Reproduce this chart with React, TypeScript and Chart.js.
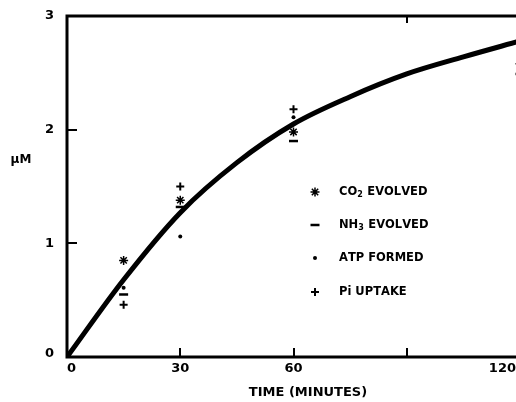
import React, { useEffect, useRef } from 'react';
import { Chart, registerables } from 'chart.js';

Chart.register(...registerables);

// ---- data ----
const timePoints = [15, 30, 60, 120];
const co2Evolved = [0.85, 1.38, 1.98, 2.58];
const nh3Evolved = [0.55, 1.32, 1.9, 2.49];
const atpFormed = [0.61, 1.06, 2.11, 2.4];
const piUptake = [0.46, 1.5, 2.18, 2.7];

const curveTimes = [0, 15, 30, 45, 60, 75, 90, 105, 120];
const curveValues = [0, 0.68, 1.27, 1.71, 2.05, 2.29, 2.49, 2.64, 2.78];

const xTickValues = [0, 30, 60, 90, 120];
const xTickLabels = ['0', '30', '60', '', '120'];
const yTickValues = [0, 1, 2, 3];
const yTickLabels = ['0', '1', '2', '3'];

const seriesLabels = ['CO₂ EVOLVED', 'NH₃ EVOLVED', 'ATP FORMED', 'Pi UPTAKE'];
const seriesSymbols = ['star', 'line', 'circle', 'cross'];
const xTitle = 'TIME (MINUTES)';
const yTitle = 'μM';

const FONT = '"DejaVu Sans", sans-serif';
const VIEW_W = 516;
const CANVAS_W = 527;

function drawSymbol(ctx: CanvasRenderingContext2D, kind: string, x: number, y: number) {
  ctx.save();
  ctx.strokeStyle = '#000';
  ctx.fillStyle = '#000';
  if (kind === 'star') {
    ctx.lineWidth = 1.5;
    const r = 4.5;
    ctx.beginPath();
    for (let i = 0; i < 4; i++) {
      const a = (i * Math.PI) / 4;
      ctx.moveTo(x - r * Math.cos(a), y - r * Math.sin(a));
      ctx.lineTo(x + r * Math.cos(a), y + r * Math.sin(a));
    }
    ctx.stroke();
  } else if (kind === 'line') {
    ctx.lineWidth = 2.5;
    ctx.beginPath();
    ctx.moveTo(x - 4.5, y);
    ctx.lineTo(x + 4.5, y);
    ctx.stroke();
  } else if (kind === 'circle') {
    ctx.beginPath();
    ctx.arc(x, y, 2, 0, Math.PI * 2);
    ctx.fill();
  } else {
    ctx.lineWidth = 2;
    ctx.beginPath();
    ctx.moveTo(x - 4, y);
    ctx.lineTo(x + 4, y);
    ctx.moveTo(x, y - 4);
    ctx.lineTo(x, y + 4);
    ctx.stroke();
  }
  ctx.restore();
}

const SUBS: Record<string, string> = { '₂': '2', '₃': '3' };

function drawLabel(ctx: CanvasRenderingContext2D, text: string, x: number, y: number) {
  let cx = x;
  for (const ch of text) {
    if (SUBS[ch]) {
      ctx.font = `bold 8px ${FONT}`;
      ctx.fillText(SUBS[ch], cx, y + 3);
      cx += ctx.measureText(SUBS[ch]).width + 0.5;
    } else {
      ctx.font = `bold 11.5px ${FONT}`;
      ctx.fillText(ch, cx, y);
      cx += ctx.measureText(ch).width;
    }
  }
}

const axesPlugin = {
  id: 'paperAxes',
  afterDraw(chart: any) {
    const { ctx, chartArea: a, scales } = chart;
    const xs = scales.x;
    const ys = scales.y;
    ctx.save();
    ctx.strokeStyle = '#000';
    ctx.fillStyle = '#000';
    ctx.lineCap = 'butt';

    // axis lines and top rule
    ctx.lineWidth = 3;
    ctx.beginPath();
    ctx.moveTo(a.left, a.top - 1.5);
    ctx.lineTo(a.left, a.bottom + 1.5);
    ctx.moveTo(a.left - 1.5, a.bottom);
    ctx.lineTo(VIEW_W, a.bottom);
    ctx.moveTo(a.left - 1.5, a.top);
    ctx.lineTo(VIEW_W, a.top);
    ctx.stroke();

    // tick marks (inward)
    ctx.lineWidth = 2;
    ctx.beginPath();
    xTickValues.forEach((v) => {
      if (v <= xs.min || v >= xs.max) return;
      const px = Math.round(xs.getPixelForValue(v));
      ctx.moveTo(px, a.bottom);
      ctx.lineTo(px, a.bottom - 9);
    });
    const topTick = xTickValues[3];
    const tpx = Math.round(xs.getPixelForValue(topTick));
    ctx.moveTo(tpx, a.top);
    ctx.lineTo(tpx, a.top + 7);
    yTickValues.forEach((v) => {
      if (v <= ys.min || v >= ys.max) return;
      const py = Math.round(ys.getPixelForValue(v));
      ctx.moveTo(a.left, py);
      ctx.lineTo(a.left + 10, py);
    });
    ctx.stroke();

    // tick labels
    ctx.font = `bold 13px ${FONT}`;
    ctx.textBaseline = 'middle';
    ctx.textAlign = 'center';
    xTickValues.forEach((v, i) => {
      const lbl = xTickLabels[i];
      if (!lbl) return;
      const w = ctx.measureText(lbl).width;
      const px = xs.getPixelForValue(v);
      const cx = Math.max(a.left + w / 2, Math.min(px, VIEW_W - w / 2));
      ctx.fillText(lbl, cx, a.bottom + 12);
    });
    ctx.textAlign = 'right';
    yTickValues.forEach((v, i) => {
      const py = ys.getPixelForValue(v);
      const adj = i === 0 ? -3 : 0;
      ctx.fillText(yTickLabels[i], 54, py + adj);
    });

    // axis titles
    ctx.textAlign = 'center';
    ctx.fillText(xTitle, 308, 393);
    ctx.font = `bold 12px ${FONT}`;
    ctx.fillText(yTitle, 21, 160);

    // legend
    ctx.textAlign = 'left';
    const rows = [192, 225, 258, 292];
    seriesLabels.forEach((lbl, i) => {
      drawSymbol(ctx, seriesSymbols[i], 315, rows[i]);
      drawLabel(ctx, lbl, 339, rows[i]);
    });
    ctx.restore();
  },
};

function pts(values: number[]) {
  return timePoints.map((t, i) => ({ x: t, y: values[i] }));
}

export default function App() {
  const ref = useRef<HTMLCanvasElement | null>(null);

  useEffect(() => {
    if (!ref.current) return;
    const markerBase = { showLine: false, borderColor: '#000', backgroundColor: '#000' };
    const chart = new Chart(ref.current, {
      type: 'scatter',
      data: {
        datasets: [
          {
            label: 'curve',
            data: curveTimes.map((t, i) => ({ x: t, y: curveValues[i] })),
            showLine: true,
            borderColor: '#000',
            borderWidth: 5,
            pointRadius: 0,
            cubicInterpolationMode: 'monotone',
            borderCapStyle: 'butt',
          } as any,
          {
            ...markerBase,
            label: seriesLabels[0],
            data: pts(co2Evolved),
            pointStyle: 'star',
            pointRadius: 4.5,
            pointBorderWidth: 1.5,
          } as any,
          {
            ...markerBase,
            label: seriesLabels[1],
            data: pts(nh3Evolved),
            pointStyle: 'line',
            pointRadius: 4.5,
            pointBorderWidth: 2.5,
          } as any,
          {
            ...markerBase,
            label: seriesLabels[2],
            data: pts(atpFormed),
            pointStyle: 'circle',
            pointRadius: 2,
            pointBorderWidth: 0,
          } as any,
          {
            ...markerBase,
            label: seriesLabels[3],
            data: pts(piUptake),
            pointStyle: 'cross',
            pointRadius: 4,
            pointBorderWidth: 2,
          } as any,
        ],
      },
      options: {
        animation: false,
        responsive: false,
        devicePixelRatio: 1,
        layout: { padding: { left: 67, right: 5, top: 16, bottom: 45 } },
        scales: {
          x: { type: 'linear', display: false, min: 0, max: 120 },
          y: { type: 'linear', display: false, min: 0, max: 3 },
        },
        plugins: { legend: { display: false }, tooltip: { enabled: false } },
        events: [],
      },
      plugins: [axesPlugin],
    });
    return () => chart.destroy();
  }, []);

  return (
    <div
      style={{
        position: 'fixed',
        left: 0,
        top: 0,
        width: VIEW_W,
        height: 402,
        overflow: 'hidden',
        background: '#fff',
      }}
    >
      <canvas ref={ref} width={CANVAS_W} height={402} style={{ display: 'block', width: CANVAS_W, height: 402 }} />
    </div>
  );
}
